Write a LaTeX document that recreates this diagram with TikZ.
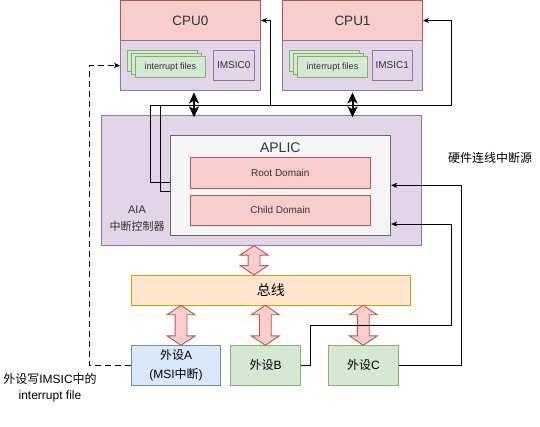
\documentclass[tikz,border=0pt]{standalone}
\usepackage{tikz}
\usetikzlibrary{shapes.arrows, arrows.meta, positioning}
\usepackage{fontspec}
\setmainfont{Liberation Sans}
\newfontfamily\zhfont{Noto Sans CJK SC}
\usepackage{xcolor}
\definecolor{redfill}{HTML}{F8CECC}
\definecolor{redline}{HTML}{B85450}
\definecolor{lilacfill}{HTML}{E1D5E7}
\definecolor{lilacline}{HTML}{9673A6}
\definecolor{greenfill}{HTML}{D5E8D4}
\definecolor{greenline}{HTML}{82B366}
\definecolor{bluefill}{HTML}{DAE8FC}
\definecolor{blueline}{HTML}{6C8EBF}
\definecolor{busfill}{HTML}{FFE6CC}
\definecolor{busline}{HTML}{D79B00}
\definecolor{greyfill}{HTML}{F5F5F5}
\definecolor{greyline}{HTML}{666666}
\definecolor{txtgray}{HTML}{333333}

\begin{document}
\begin{tikzpicture}[x=1pt,y=-1pt]
						\tikzstyle{cpubox} = [rectangle,fill=redfill,draw=redline,line width=0.9pt,inner sep=0pt,text=txtgray,font=\fontsize{13.5}{16}\selectfont]
						\tikzstyle{corebox} = [rectangle,fill=lilacfill,draw=lilacline,line width=0.9pt,inner sep=0pt]
						\tikzstyle{filebox} = [rectangle,fill=greenfill,draw=greenline,line width=0.9pt,inner sep=0pt,text=txtgray,font=\fontsize{9}{11}\selectfont]
						\tikzstyle{imsicbox} = [rectangle,fill=lilacfill,draw=lilacline,line width=0.9pt,inner sep=0pt,text=txtgray,font=\fontsize{10}{12}\selectfont]
						\tikzstyle{aplicbox} = [rectangle,fill=greyfill,draw=greyline,line width=0.9pt,inner sep=0pt]
						\tikzstyle{domainbox} = [rectangle,fill=redfill,draw=redline,line width=0.9pt,inner sep=0pt,text=txtgray,font=\fontsize{10}{12}\selectfont]
						\tikzstyle{busbox} = [rectangle,fill=busfill,draw=busline,line width=0.9pt,inner sep=0pt,font=\zhfont\fontsize{14}{16}\selectfont]
						\tikzstyle{devbox} = [rectangle,fill=greenfill,draw=greenline,line width=0.9pt,inner sep=0pt,align=center,font=\fontsize{12}{19.4}\selectfont]
						\tikzstyle{fatarrow} = [double arrow,fill=redfill,draw=redline,line width=0.9pt,inner sep=5.5pt,double arrow head extend=8pt,double arrow tip angle=112,rotate=90]
						\tikzstyle{biarrow} = [{Stealth[length=11pt,width=10pt,inset=3pt]}-{Stealth[length=11pt,width=10pt,inset=3pt]},line width=2pt]
						\tikzstyle{wire} = [-{Stealth[length=6pt,width=5pt,inset=1.5pt]},line width=0.9pt]
						\tikzstyle{msiwire} = [wire,dash pattern=on 6pt off 4pt]
						\useasboundingbox (0,0) rectangle (540,426);
						
						\node[cpubox,minimum width=140pt,minimum height=40pt] (cpu0) at (190.5,20.5) {\raisebox{-1.5pt}{CPU0}};
						\node[corebox,minimum width=140pt,minimum height=50pt] (core0) at (190.5,65.5) {};
						\node[filebox,minimum width=70pt,minimum height=21pt] (files0c) at (162.5,60.7) {};
						\node[filebox,minimum width=70pt,minimum height=21pt] (files0b) at (166.5,63.7) {};
						\node[filebox,minimum width=70pt,minimum height=21pt] (files0a) at (170.5,66.7) {interrupt files};
						\node[imsicbox,minimum width=40.7pt,minimum height=30pt] (imsic0) at (233.7,65.2) {IMSIC0};
						
						\node[cpubox,minimum width=140pt,minimum height=40pt] (cpu1) at (352.5,20.5) {\raisebox{-1.5pt}{CPU1}};
						\node[corebox,minimum width=140pt,minimum height=50pt] (core1) at (352.5,65.5) {};
						\node[filebox,minimum width=70pt,minimum height=21pt] (files1c) at (324.5,60.7) {};
						\node[filebox,minimum width=70pt,minimum height=21pt] (files1b) at (328.5,63.7) {};
						\node[filebox,minimum width=70pt,minimum height=21pt] (files1a) at (332.5,66.7) {interrupt files};
						\node[imsicbox,minimum width=40.7pt,minimum height=30pt] (imsic1) at (392.3,65.2) {IMSIC1};
						
						\node[corebox,minimum width=320pt,minimum height=130.5pt] (aia) at (261,180.3) {};
						\node[align=center,text=txtgray,font=\fontsize{11}{17}\selectfont] (aialbl) at (137,218.5) {AIA\\{\zhfont 中断控制器}};
						\node[aplicbox,minimum width=220.7pt,minimum height=100pt] (aplic) at (280.3,185.3) {};
						\node[text=txtgray,font=\fontsize{14}{16}\selectfont] (aplictxt) at (280.3,148) {APLIC};
						\node[domainbox,minimum width=180.7pt,minimum height=30.3pt] (root) at (280.3,172.8) {\raisebox{-1.5pt}{Root Domain}};
						\node[domainbox,minimum width=180.7pt,minimum height=30.3pt] (child) at (280.3,210.3) {\raisebox{-1.5pt}{Child Domain}};
						
						\node[busbox,minimum width=279pt,minimum height=30.3pt] (bus) at (270.8,290.2) {总线};
						\node[devbox,fill=bluefill,draw=blueline,minimum width=89.3pt,minimum height=40pt] (devA) at (176,365.3) {{\zhfont 外设}A\\(MSI{\zhfont 中断})};
						\node[devbox,minimum width=70.4pt,minimum height=40pt] (devB) at (265.5,365.3) {{\zhfont 外设}B};
						\node[devbox,minimum width=70.4pt,minimum height=40pt] (devC) at (363.5,365.3) {{\zhfont 外设}C};
						
						\node[fatarrow,minimum height=29.3pt] (aiabus) at (254,260.3) {};
						\node[fatarrow,minimum height=40pt] (busA) at (181,325.3) {};
						\node[fatarrow,minimum height=40pt] (busB) at (265.3,325.3) {};
						\node[fatarrow,minimum height=40pt] (busC) at (363.3,325.3) {};
						
						\node[font=\zhfont\fontsize{12}{14}\selectfont] (hwlbl) at (490,158) {硬件连线中断源};
						\node[align=center,font=\fontsize{12}{16}\selectfont] (msilbl) at (50,387.3) {{\zhfont 外设写}IMSIC{\zhfont 中的}\\interrupt file};
						
						\draw[biarrow] ([xshift=3.5pt,yshift=-1.5pt]core0.south) -- ([xshift=3.5pt,yshift=-2.7pt]core0.south |- aia.north);
						\draw[biarrow] ([yshift=-1.5pt]core1.south) -- ([yshift=-2.7pt]core1.south |- aia.north);
						\draw[wire] ([yshift=3.3pt]aplic.west) -| (150,105) -| ([xshift=9.5pt]cpu0.east) -- (cpu0.east);
						\draw[wire] ([yshift=-6.4pt]aplic.west) -| (160,105) -| ([xshift=28.5pt]cpu1.east) -- (cpu1.east);
						\draw[wire] (devC.east) -| ([xshift=70pt]aplic.east) -- (aplic.east);
						\draw[wire] (devB.east) -| (310.7,325) -| ([xshift=60pt,yshift=-38.7pt]aplic.east) -- ([yshift=-38.7pt]aplic.east);
						\draw[msiwire] (devA.west) -| ([xshift=-30.5pt]core0.west) -- (core0.west);
						
						
						\end{tikzpicture}
\end{document}
